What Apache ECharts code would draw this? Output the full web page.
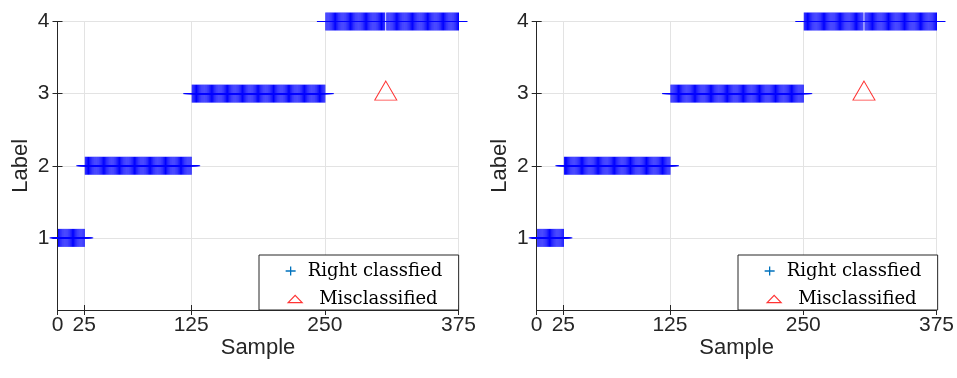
<!DOCTYPE html>
<html>
<head>
<meta charset="utf-8">
<script src="https://cdn.jsdelivr.net/npm/echarts@6/dist/echarts.min.js"></script>
<style>
html,body{margin:0;padding:0;background:#fff;}
#chart{width:957px;height:378px;}
</style>
</head>
<body>
<div id="chart"></div>
<script>
// Class label assigned to each sample 1..375 (25 samples per row)
const classLabel = [
  1,1,1,1,1, 1,1,1,1,1, 1,1,1,1,1, 1,1,1,1,1, 1,1,1,1,1,
  2,2,2,2,2, 2,2,2,2,2, 2,2,2,2,2, 2,2,2,2,2, 2,2,2,2,2,
  2,2,2,2,2, 2,2,2,2,2, 2,2,2,2,2, 2,2,2,2,2, 2,2,2,2,2,
  2,2,2,2,2, 2,2,2,2,2, 2,2,2,2,2, 2,2,2,2,2, 2,2,2,2,2,
  2,2,2,2,2, 2,2,2,2,2, 2,2,2,2,2, 2,2,2,2,2, 2,2,2,2,2,
  3,3,3,3,3, 3,3,3,3,3, 3,3,3,3,3, 3,3,3,3,3, 3,3,3,3,3,
  3,3,3,3,3, 3,3,3,3,3, 3,3,3,3,3, 3,3,3,3,3, 3,3,3,3,3,
  3,3,3,3,3, 3,3,3,3,3, 3,3,3,3,3, 3,3,3,3,3, 3,3,3,3,3,
  3,3,3,3,3, 3,3,3,3,3, 3,3,3,3,3, 3,3,3,3,3, 3,3,3,3,3,
  3,3,3,3,3, 3,3,3,3,3, 3,3,3,3,3, 3,3,3,3,3, 3,3,3,3,3,
  4,4,4,4,4, 4,4,4,4,4, 4,4,4,4,4, 4,4,4,4,4, 4,4,4,4,4,
  4,4,4,4,4, 4,4,4,4,4, 4,4,4,4,4, 4,4,4,4,4, 4,4,4,4,4,
  4,4,4,4,4, 4,3,4,4,4, 4,4,4,4,4, 4,4,4,4,4, 4,4,4,4,4,
  4,4,4,4,4, 4,4,4,4,4, 4,4,4,4,4, 4,4,4,4,4, 4,4,4,4,4,
  4,4,4,4,4, 4,4,4,4,4, 4,4,4,4,4, 4,4,4,4,4, 4,4,4,4,4
];
const misclassifiedSamples = [307];
const xTicks = [0, 25, 125, 250, 375];
const yTicks = [1, 2, 3, 4];
const seriesNames = ['Right classfied', 'Misclassified'];
const xAxisName = 'Sample';
const yAxisName = 'Label';

const rightData = classLabel.map((y, i) => [i + 1, y]).filter(d => misclassifiedSamples.indexOf(d[0]) < 0);
const misData = misclassifiedSamples.map(s => [s, classLabel[s - 1]]);

const SANS = 'Liberation Sans, Arial, sans-serif';
const SERIF = 'DejaVu Serif, serif';
const AX = '#262626';

const grids = [
  {left: 57.5, top: 21.5, width: 401, height: 288.5},
  {left: 536.7, top: 21.5, width: 400, height: 288.5}
];
const legendLeft = [259, 738];

const xAxes = [], yAxes = [], series = [], legends = [];
grids.forEach((g, gi) => {
  xAxes.push({
    type: 'value', gridIndex: gi, min: 0, max: 375, position: 'bottom',
    name: xAxisName, nameLocation: 'middle', nameGap: 27, nameMoveOverlap: false,
    nameTextStyle: {fontFamily: SANS, fontSize: 22, color: AX},
    axisLine: {show: true, lineStyle: {color: AX, width: 1}},
    axisTick: {show: true, inside: true, length: 5, customValues: xTicks, lineStyle: {color: AX}},
    axisLabel: {show: true, customValues: xTicks, margin: 5, fontFamily: SANS, fontSize: 21, color: AX, showMinLabel: true, showMaxLabel: true},
    splitLine: {show: true, lineStyle: {color: '#e3e3e3', width: 1}}
  });
  xAxes.push({
    type: 'value', gridIndex: gi, min: 0, max: 375, position: 'top',
    axisLine: {show: true, lineStyle: {color: AX, width: 1}},
    axisTick: {show: true, inside: true, length: 5, customValues: xTicks, lineStyle: {color: AX}},
    axisLabel: {show: false},
    splitLine: {show: false}
  });
  yAxes.push({
    type: 'value', gridIndex: gi, min: 0, max: 4, position: 'left',
    name: yAxisName, nameLocation: 'middle', nameGap: 26, nameRotate: 90, nameMoveOverlap: false,
    nameTextStyle: {fontFamily: SANS, fontSize: 22, color: AX},
    axisLine: {show: true, lineStyle: {color: AX, width: 1}},
    axisTick: {show: true, inside: true, length: 5, customValues: yTicks, lineStyle: {color: AX}},
    axisLabel: {show: true, customValues: yTicks, margin: 8, fontFamily: SANS, fontSize: 21, color: AX},
    splitLine: {show: true, lineStyle: {color: '#e3e3e3', width: 1}}
  });
  yAxes.push({
    type: 'value', gridIndex: gi, min: 0, max: 4, position: 'right',
    axisLine: {show: true, lineStyle: {color: AX, width: 1}},
    axisTick: {show: true, inside: true, length: 5, customValues: yTicks, lineStyle: {color: AX}},
    axisLabel: {show: false},
    splitLine: {show: false}
  });
  series.push({
    type: 'scatter', name: seriesNames[0], xAxisIndex: gi * 2, yAxisIndex: gi * 2,
    data: rightData,
    symbol: 'path://M9,0L9,18M0,9L18,9', symbolSize: 18,
    itemStyle: {color: 'rgba(0,0,0,0)', borderColor: '#0000ff', borderWidth: 1, opacity: 1},
    silent: true, z: 3
  });
  series.push({
    type: 'scatter', name: seriesNames[1], xAxisIndex: gi * 2, yAxisIndex: gi * 2,
    data: misData,
    symbol: 'triangle', symbolSize: [22, 19], symbolOffset: [0, -3],
    itemStyle: {color: 'rgba(0,0,0,0)', borderColor: '#ff0000', borderWidth: 1},
    silent: true, z: 4
  });
  legends.push({
    left: legendLeft[gi], top: 255, orient: 'vertical',
    padding: [6, 11, 1, 20], itemGap: 8, itemWidth: 23, itemHeight: 14,
    backgroundColor: '#ffffff', borderColor: AX, borderWidth: 1, borderRadius: 0,
    selectedMode: false,
    textStyle: {fontFamily: SERIF, fontSize: 18, lineHeight: 20, color: '#000', width: 140,
      rich: {m: {fontFamily: SERIF, fontSize: 18, lineHeight: 20, color: '#000', padding: [0, 0, 0, 11.5]}}},
    formatter: n => n === seriesNames[1] ? '{m|' + n + '}' : n,
    data: [
      {name: seriesNames[0], icon: 'path://M0,0M23,14M11,2.5L11,11.5M6,7L16,7',
        itemStyle: {color: 'rgba(0,0,0,0)', borderColor: '#0072BD', borderWidth: 1.3}},
      {name: seriesNames[1], icon: 'path://M0,0M23,14M8.5,10.7L15.5,3.3L22.5,10.7Z',
        itemStyle: {color: 'rgba(0,0,0,0)', borderColor: '#ff0000', borderWidth: 1.2}}
    ]
  });
});

const chart = echarts.init(document.getElementById('chart'), null, {renderer: 'canvas'});
chart.setOption({
  animation: false,
  backgroundColor: '#ffffff',
  grid: grids,
  xAxis: xAxes,
  yAxis: yAxes,
  legend: legends,
  series: series
});
</script>
</body>
</html>
